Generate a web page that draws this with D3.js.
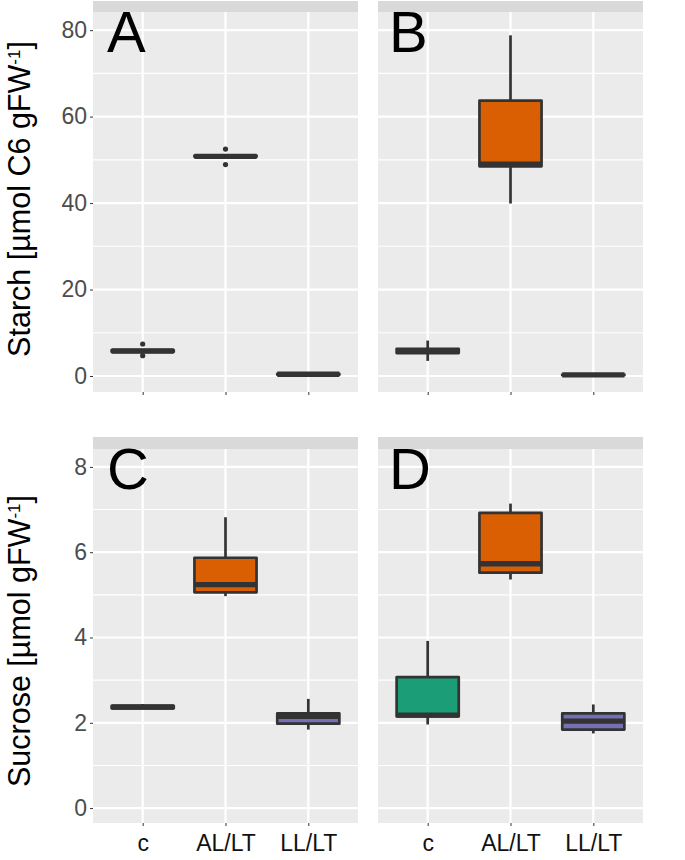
<!DOCTYPE html>
<html>
<head>
<meta charset="utf-8">
<script src="https://cdn.jsdelivr.net/npm/d3@7"></script>
<style>
  html, body { margin: 0; padding: 0; background: #fff; }
  svg { display: block; font-family: "Liberation Sans", Arial, Helvetica, sans-serif; }
</style>
</head>
<body>
<svg id="chart" width="685" height="860"></svg>
<script>
// ---------------- data ----------------
const categories = ["c", "AL/LT", "LL/LT"];
const categoryColors = ["#1B9E77", "#D95F02", "#7570B3"];
const panelLetters = ["A", "B", "C", "D"];
const starchTicks = [0, 20, 40, 60, 80];
const starchMinor = [10, 30, 50, 70];
const sucroseTicks = [0, 2, 4, 6, 8];
const sucroseMinor = [1, 3, 5, 7];
const starchTitle = "Starch [µmol C6 gFW";
const sucroseTitle = "Sucrose [µmol gFW";

// box stats per category: [lower whisker, q1, median, q3, upper whisker]
const statsA = [[5.5, 5.6, 5.8, 6.0, 6.1], [50.6, 50.7, 50.8, 51.0, 51.1], [0.2, 0.3, 0.4, 0.5, 0.6]];
const outliersA = [[7.4, 4.7], [52.5, 48.9], []];
const statsB = [[3.5, 5.3, 5.8, 6.3, 8.2], [39.9, 48.5, 49.0, 63.7, 78.8], [0.1, 0.2, 0.25, 0.35, 0.4]];
const outliersB = [[], [], []];
const statsC = [[2.33, 2.34, 2.37, 2.40, 2.44], [4.97, 5.06, 5.24, 5.87, 6.82], [1.84, 1.98, 2.15, 2.22, 2.56]];
const outliersC = [[], [], []];
const statsD = [[1.96, 2.15, 2.18, 3.07, 3.92], [5.36, 5.52, 5.73, 6.92, 7.14], [1.75, 1.84, 2.04, 2.22, 2.43]];
const outliersD = [[], [], []];

// ---------------- layout ----------------
const svg = d3.select("#chart");
const cols = [[93, 358], [378, 643]];
const rows = [
  { strip: [1, 12], panel: [12, 392], domain: [-3.7, 84.2], ticks: starchTicks, minor: starchMinor, title: starchTitle, titleY: 199 },
  { strip: [437, 449], panel: [449, 823], domain: [-0.35, 8.42], ticks: sucroseTicks, minor: sucroseMinor, title: sucroseTitle, titleY: 641 }
];
const panels = [
  { row: 0, col: 0, stats: statsA, out: outliersA },
  { row: 0, col: 1, stats: statsB, out: outliersB },
  { row: 1, col: 0, stats: statsC, out: outliersC },
  { row: 1, col: 1, stats: statsD, out: outliersD }
];

const strokeCol = "#333333";
const lw = 2.7;

panels.forEach((p, i) => {
  const r = rows[p.row];
  const [x0, x1] = cols[p.col];
  const y = d3.scaleLinear().domain(r.domain).range([r.panel[1], r.panel[0]]);
  const x = d3.scalePoint().domain(categories).range([x0, x1]).padding(0.6);
  const boxW = x.step() * 0.75;
  const g = svg.append("g");

  // strip
  g.append("rect").attr("x", x0).attr("y", r.strip[0]).attr("width", x1 - x0)
    .attr("height", r.strip[1] - r.strip[0]).attr("fill", "#D9D9D9");
  // panel bg
  g.append("rect").attr("x", x0).attr("y", r.panel[0]).attr("width", x1 - x0)
    .attr("height", r.panel[1] - r.panel[0]).attr("fill", "#EBEBEB");

  // minor grid
  g.selectAll(".minor").data(r.minor).join("line")
    .attr("x1", x0).attr("x2", x1).attr("y1", d => y(d)).attr("y2", d => y(d))
    .attr("stroke", "#fff").attr("stroke-width", 1.1);
  // major grid
  g.selectAll(".major").data(r.ticks).join("line")
    .attr("x1", x0).attr("x2", x1).attr("y1", d => y(d)).attr("y2", d => y(d))
    .attr("stroke", "#fff").attr("stroke-width", 2.2);
  g.selectAll(".vgrid").data(categories).join("line")
    .attr("x1", d => x(d)).attr("x2", d => x(d)).attr("y1", r.panel[0]).attr("y2", r.panel[1])
    .attr("stroke", "#fff").attr("stroke-width", 2.2);

  // boxes
  categories.forEach((c, ci) => {
    const s = p.stats[ci];
    const cx = x(c);
    const bg = g.append("g");
    // whiskers
    bg.append("line").attr("x1", cx).attr("x2", cx).attr("y1", y(s[3])).attr("y2", y(s[4]))
      .attr("stroke", strokeCol).attr("stroke-width", lw);
    bg.append("line").attr("x1", cx).attr("x2", cx).attr("y1", y(s[1])).attr("y2", y(s[0]))
      .attr("stroke", strokeCol).attr("stroke-width", lw);
    // box
    bg.append("rect").attr("x", cx - boxW / 2).attr("width", boxW)
      .attr("y", y(s[3])).attr("height", Math.max(0.01, y(s[1]) - y(s[3])))
      .attr("fill", categoryColors[ci]).attr("stroke", strokeCol).attr("stroke-width", lw)
      .attr("stroke-linejoin", "round");
    // median
    bg.append("line").attr("x1", cx - boxW / 2).attr("x2", cx + boxW / 2)
      .attr("y1", y(s[2])).attr("y2", y(s[2]))
      .attr("stroke", strokeCol).attr("stroke-width", lw * 2).attr("stroke-linecap", "butt");
    // outliers
    bg.selectAll("circle").data(p.out[ci]).join("circle")
      .attr("cx", cx).attr("cy", d => y(d)).attr("r", 2.6).attr("fill", strokeCol);
  });

  // y axis (left column only)
  if (p.col === 0) {
    const ax = g.append("g").attr("transform", `translate(${x0},0)`)
      .call(d3.axisLeft(y).tickValues(r.ticks).tickSize(3).tickPadding(3).tickFormat(d3.format("d")));
    ax.select(".domain").remove();
    ax.selectAll(".tick line").attr("stroke", strokeCol).attr("stroke-width", 1);
    ax.selectAll(".tick text").attr("fill", "#4D4D4D").attr("font-size", 23)
      .attr("font-family", "Liberation Sans, Arial, sans-serif");

    // y title
    const t = svg.append("text")
      .attr("transform", `translate(30,${r.titleY}) rotate(-90)`)
      .attr("text-anchor", "middle").attr("font-size", 30.5).attr("fill", "#000");
    t.append("tspan").text(r.title);
    t.append("tspan").attr("font-size", 17).attr("dy", -10).text("-1");
    t.append("tspan").attr("dy", 10).text("]");
  }

  // x axis
  const xa = g.append("g").attr("transform", `translate(0,${r.panel[1]})`)
    .call(d3.axisBottom(x).tickSize(3).tickPadding(9));
  xa.select(".domain").remove();
  xa.selectAll(".tick line").attr("stroke", strokeCol).attr("stroke-width", 1);
  if (p.row === 1) {
    xa.selectAll(".tick text").attr("fill", "#111").attr("font-size", 23)
      .attr("font-family", "Liberation Sans, Arial, sans-serif");
  } else {
    xa.selectAll(".tick text").remove();
  }

  // panel letter
  svg.append("text").attr("x", x0 + (p.col === 0 ? 14 : 11)).attr("y", r.panel[0] + 40)
    .attr("font-size", 58).attr("fill", "#000").text(panelLetters[i]);
});
</script>
</body>
</html>
